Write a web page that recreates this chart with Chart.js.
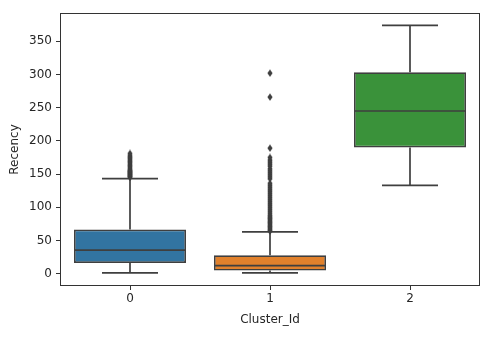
<!DOCTYPE html>
<html>
<head>
<meta charset="utf-8">
<script src="https://cdn.jsdelivr.net/npm/chart.js@4/dist/chart.umd.min.js"></script>
<style>
html,body{margin:0;padding:0;background:#fff;}
#wrap{width:500px;height:343px;position:relative;}
</style>
</head>
<body>
<div id="wrap"><canvas id="c" width="500" height="343"></canvas></div>
<script>
// ---- data ----
const categories = ['0', '1', '2'];
const q1 = [16, 4.5, 190];
const median = [35.5, 12, 245];
const q3 = [66.5, 27.5, 303.5];
const whiskerLow = [1, 1, 133];
const whiskerHigh = [143, 63, 374];
const outliers0 = [145,146,147,148,149,150,151,152,153,154,155,156,158,160,162,164,166,168,170,172,174,176,178,181];
const outliers1 = [64,66,68,70,72,74,76,78,80,82,84,86,88,91,94,97,100,103,106,109,112,115,118,121,124,127,130,133,136,
  143,146,149,152,155,158,162,165,168,171,175,189,266,302];
const outliers2 = [];
const yTicks = [0, 50, 100, 150, 200, 250, 300, 350];
const boxColors = ['#3274a1', '#e1812c', '#3a923a'];
const lineColor = '#3f3f3f';

const outlierPoints = [];
[outliers0, outliers1, outliers2].forEach((arr, i) => arr.forEach(v => outlierPoints.push({x: categories[i], y: v})));

// thin diamond marker
const mk = document.createElement('canvas');
mk.width = 6; mk.height = 8;
(function(){
  const c = mk.getContext('2d');
  c.fillStyle = lineColor;
  c.beginPath();
  c.moveTo(3, 0.3); c.lineTo(5.6, 4); c.lineTo(3, 7.7); c.lineTo(0.4, 4); c.closePath();
  c.fill();
})();

const boxPlugin = {
  id: 'boxParts',
  afterDatasetDraw(chart, args) {
    if (args.index !== 0) return;
    const ctx = chart.ctx;
    const ys = chart.scales.y;
    const meta = chart.getDatasetMeta(0);
    ctx.save();
    ctx.strokeStyle = lineColor;
    ctx.lineWidth = 1.7;
    meta.data.forEach((bar, i) => {
      const x = bar.x, w = bar.width;
      const yQ1 = ys.getPixelForValue(q1[i]);
      const yQ3 = ys.getPixelForValue(q3[i]);
      const yMed = ys.getPixelForValue(median[i]);
      const yLo = ys.getPixelForValue(whiskerLow[i]);
      const yHi = ys.getPixelForValue(whiskerHigh[i]);
      ctx.beginPath();
      ctx.moveTo(x - w/2, yMed); ctx.lineTo(x + w/2, yMed);
      ctx.moveTo(x, yQ3); ctx.lineTo(x, yHi);
      ctx.moveTo(x, yQ1); ctx.lineTo(x, yLo);
      ctx.moveTo(x - w/4, yHi); ctx.lineTo(x + w/4, yHi);
      ctx.moveTo(x - w/4, yLo); ctx.lineTo(x + w/4, yLo);
      ctx.stroke();
    });
    ctx.restore();
  },
  afterDraw(chart) {
    const a = chart.chartArea, ctx = chart.ctx;
    ctx.save();
    ctx.strokeStyle = '#333333';
    ctx.lineWidth = 1;
    ctx.strokeRect(Math.round(a.left) + 0.5, Math.round(a.top) + 0.5, Math.round(a.right - a.left) - 1, Math.round(a.bottom - a.top) - 1);
    ctx.restore();
  }
};

const font = {family: 'DejaVu Sans', size: 12};
new Chart(document.getElementById('c'), {
  type: 'bar',
  data: {
    labels: categories,
    datasets: [
      {
        type: 'bar',
        data: categories.map((c, i) => [q1[i], q3[i]]),
        backgroundColor: boxColors,
        borderColor: lineColor,
        borderWidth: 1.7,
        borderSkipped: false,
        barPercentage: 0.8,
        categoryPercentage: 1.0,
        order: 2
      },
      {
        type: 'scatter',
        data: outlierPoints,
        pointStyle: mk,
        pointRadius: 3,
        order: 1
      }
    ]
  },
  options: {
    responsive: false,
    animation: false,
    events: [],
    layout: {padding: {left: 0, right: 20, top: 13, bottom: 0}},
    plugins: {legend: {display: false}, tooltip: {enabled: false}},
    scales: {
      x: {
        type: 'category',
        offset: true,
        afterFit(s) { s.height = 57; },
        grid: {display: true, drawOnChartArea: false, drawTicks: true, tickLength: 4, color: '#333333', offset: false},
        border: {display: false},
        ticks: {font: font, color: '#262626', padding: 2, maxRotation: 0},
        title: {display: true, text: 'Cluster_Id', font: font, color: '#262626', padding: {top: 0, bottom: 16}}
      },
      y: {
        type: 'linear',
        min: -18.7,
        max: 392.7,
        afterFit(s) { s.width = 60; },
        afterBuildTicks(s) { s.ticks = yTicks.map(v => ({value: v})); },
        grid: {display: true, drawOnChartArea: false, drawTicks: true, tickLength: 4, color: '#333333'},
        border: {display: false},
        ticks: {font: font, color: '#262626', padding: 4},
        title: {display: true, text: 'Recency', font: font, color: '#262626', padding: {top: 8, bottom: 0}}
      }
    }
  },
  plugins: [boxPlugin]
});
</script>
</body>
</html>
